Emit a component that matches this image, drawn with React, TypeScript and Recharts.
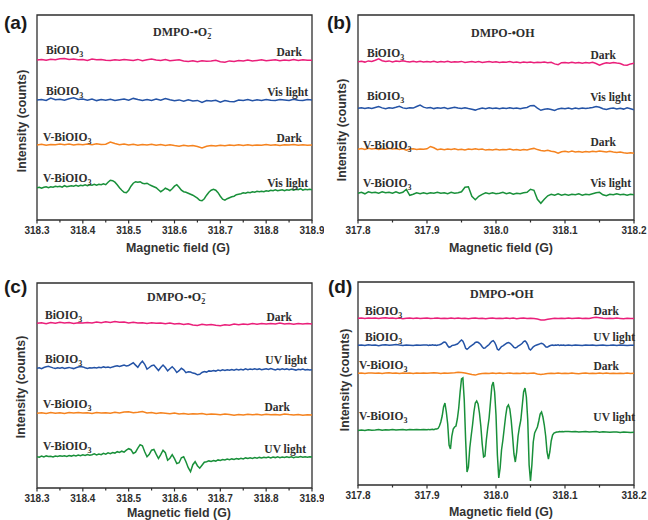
import React from "react";
import { LineChart, Line, XAxis, YAxis, ReferenceArea } from "recharts";

const range = (start: number, stop: number, step: number) => {
  const n = Math.round((stop - start) / step);
  return Array.from({ length: n + 1 }, (_, i) => +(start + i * step).toFixed(4));
};

// sampling positions, magnetic field (G)
const fieldA = range(318.3, 318.9, 0.01);
const fieldAFine = range(318.3, 318.9, 0.005);
const fieldB = range(317.8, 318.2, 0.005);
const fieldD = [
  ...range(317.8, 317.895, 0.005),
  ...range(317.9, 318.1, 0.002),
  ...range(318.105, 318.2, 0.005),
];

const ticksA = [318.3, 318.35, 318.4, 318.45, 318.5, 318.55, 318.6, 318.65, 318.7, 318.75, 318.8, 318.85, 318.9];
const ticksB = [317.8, 317.85, 317.9, 317.95, 318.0, 318.05, 318.1, 318.15, 318.2];

const PINK = "#ea1f7a";
const BLUE = "#2453a6";
const ORANGE = "#f5831f";
const GREEN = "#19903a";

// ---- (a) DMPO-O2-, Vis light ----
const pinkA = [
  0, 0.5, -0.3, 0.8, 0.2, 1.2, 1.6, 0.4, 1, 0.2,
  0.6, -0.4, 1, 0.2, 0.6, -0.3, -0.6, 0.3, -0.2, 0.5,
  0.1, -0.4, 0.6, -0.7, 0.2, 0.9, 0, -0.5, 0.4, -0.8,
  -0.3, 0.2, -0.9, -1.4, -0.7, -1.8, -0.8, -1.3, -0.9, -0.3,
  -1.7, -2.2, -0.9, -1.4, -0.4, -1, 0.1, -0.9, -0.4, 0.2,
  -0.8, -0.3, 0.2, -0.8, 0.1, -0.4, 0.5, -0.4, 0.2, -0.3,
  -0.2,
];
const blueA = [
  0, 0.6, -0.4, 2, 0.3, 0.8, -0.2, 1.2, 2.2, 0.5,
  0.9, -0.3, 1, -0.6, 0.4, -0.2, 0.8, -0.5, 0.2, 1,
  -0.2, 1.6, 0.4, -0.4, 0.6, -0.5, 0.9, -0.3, 1.5, 0.2,
  -0.8, 0.1, -1.2, 0.2, -0.9, -0.4, -2.5, -0.6, -1, -0.2,
  -2.3, -0.5, -1.4, -1.8, 0, -0.6, 0.4, -0.8, 0.2, -0.4,
  0.6, -0.2, -0.6, 0.4, 0, -0.5, 0.7, -0.2, -0.6, 0.4,
  0.1,
];
const orangeA = [
  0, 0.8, -0.2, 0.6, 0.2, 1, 0.3, 0.9, -0.1, 0.7,
  0.2, 1, 0.3, 1.2, 0.4, 0.8, 3, 1.5, 0.2, 0.9,
  0.1, 0.7, -0.2, 0.5, 0.1, 0.8, -0.3, 0.4, -0.5, 0.2,
  -0.6, -1.2, -0.3, -1, -0.4, -1.5, -3, -1.2, -0.5, -1,
  -0.2, -0.8, 0, -0.6, 0.2, -0.4, 0.3, -0.5, 0.1, -0.3,
  0.4, -0.2, 0.3, -0.4, 0.2, -0.1, 0.5, -0.3, 0.2, -0.2,
  0,
];
const greenA = [
  0, 0.5, -0.5, 0.5, 1, 0, 1, 0.5, 1.5, 1,
  1.5, 0.5, 2, 1, 1.5, 2, 1.5, 2.5, 1.5, 2.5,
  2, 3, 2, 3, 2.5, 3.5, 2.5, 3.5, 3, 4,
  3, 5.5, 7.5, 7, 5.5, 3, 0, -2.5, -4.5, -5,
  -2.5, 1.5, 4.5, 6, 5.5, 6, 4.5, 4, 4.5, 3,
  2, 1, 0, -2, -4, -2.5, -0.5, -1.5, -3, -1,
  1.5, 3, 0.5, -2.5, -4, -4.5, -5.5, -6.5, -7.5, -9,
  -10.5, -12.5, -13, -11, -7.5, -4.5, -2.5, -1.5, -2.5, -5,
  -8.5, -11.5, -12.5, -11, -10, -9, -8.5, -7, -6.5, -6,
  -5, -5.5, -4.5, -5, -4, -4.5, -3.5, -4, -3.5, -4,
  -3, -3.5, -2.5, -3, -2, -3, -2.5, -2, -3, -2,
  -2.5, -1.5, -2.5, -1.5, -2, -1, -2.5, -1.5, -2, -1.5,
  -2,
];

// ---- (b) DMPO-OH, Vis light ----
const pinkB = [
  0, 0.5, -0.4, 0.8, 0.3, 1.5, 2.8, 1, 0.2, 0.8,
  -0.2, 0.6, 0.1, 1, 0.3, -0.3, 0.5, -0.2, 0.4, -0.4,
  0.3, -0.2, 0.5, -0.5, 0.2, -0.3, 0.4, -0.6, 0, -0.4,
  0.3, -0.7, -0.2, 0.2, -0.5, 0.1, -0.8, -0.3, 0.2, -0.6,
  -0.1, -0.8, -0.2, -0.6, 0.1, -0.7, -0.3, -1, -0.4, -0.9,
  -0.2, -1.1, -0.5, -0.9, -0.3, -1, -0.6, -2.2, -3, -1,
  -0.8, -1.4, -0.6, -1.2, -0.7, -1.5, -0.9, -1.2, -0.6, -1.8,
  -3.5, -2, -1.1, -1.6, -0.9, -1.4, -1.8, -3.2, -3.6, -2.2,
  -1.6,
];
const blueB = [
  0, 0.6, -0.3, 0.5, -0.2, 0.8, 1.8, 0.4, -0.5, 0.6,
  0.1, 1, 2, 0.4, -0.3, 0.5, 0.2, 1.8, 3.2, 1.2,
  0.2, 0.8, -0.3, 0.5, 0, 0.7, -0.4, 0.3, 1, 0.2,
  -0.3, 0.6, -0.2, -0.9, -1.8, -0.6, 0.2, -0.4, 0.5, -0.3,
  0.4, -0.5, 0.3, -0.2, 0.6, -0.3, 0.2, -0.5, 0.4, 0.9,
  2.6, 2.8, 0.2, -2, -1, -0.5, -1.2, -2.2, -0.6, 0.1,
  -0.5, 0.3, -0.6, 0.2, -0.4, 0.4, -0.3, 0.2, 0.8, 1.8,
  1, -0.4, -1.2, -0.3, 0.2, -0.6, 0.1, -0.8, 0.5, -0.4,
  -1.5,
];
const orangeB = [
  0, 0.8, -0.2, 1, 0.3, 0.9, -0.1, 0.6, 0.1, 1,
  0.2, 0.7, -0.3, 0.5, -1, 0.2, 0.6, -0.3, 0.4, 0,
  0.5, 2.8, 1.5, -0.4, 0.3, -0.5, 0.2, -0.2, 0.5, -0.4,
  0.1, -0.6, 0.3, -0.3, 0.6, -0.2, 0.2, -0.8, -0.2, -0.6,
  0, -0.7, -0.1, -0.5, 0.2, -0.6, -0.2, -0.9, -0.3, -0.7,
  0.2, 0.9, -0.3, -1.2, -1.6, -1, -2, -2.5, -3.8, -2.4,
  -2, -2.8, -1.8, -2.6, -2.2, -3, -2.1, -2.6, -2, -2.4,
  -1.6, -2.2, -2.8, -1.9, -2.6, -3.2, -2.7, -3.5, -3.9, -3.4,
  -4,
];
const greenB = [
  0, 1, -0.5, 1.5, 0.5, 1, 0, 1.5, 0.5, 1,
  0, 1.5, 0, 1, 4, -2, -1, 0.5, -0.5, 0.5,
  -0.5, 0.5, 0, 1, 0, 0.5, -0.5, 1, 0, 0.5,
  1.5, 6, 6.5, -3, -6.5, -3, -1, 0.5, -0.5, 0.5,
  -0.5, 0, 1, -0.5, 0.5, -1, 0, -0.5, 0.5, 1,
  4, 3, -6, -10, -6, -2.5, -1, -2, -0.5, -2,
  -1, -2, -1, -1.5, -0.5, -2, -1, -1.5, -0.5, 0.5,
  1, -1.5, -2.5, -1, -1.5, -0.5, -1.5, -1, -2, -1,
  -1.5,
];

// ---- (c) DMPO-O2-, UV light ----
const pinkC = [
  0, 0.5, -0.4, 0.7, 0, 1, 0.3, 0.8, -0.1, 0.6,
  0.2, 0.9, 0.3, 1.2, 0.5, 1.5, 0.8, 1.8, 1, 1.2,
  0.4, 1, 0.2, 0.6, -0.2, 0.5, 0, 0.4, -0.5, 0.2,
  -0.6, -0.1, -1.2, -0.5, -1.6, -2.2, -1, -1.8, -1.2, -2,
  -2.5, -1.4, -2, -0.8, -1.5, -0.6, -1.1, -0.3, -0.9, -0.2,
  -0.8, -0.1, -0.6, 0.2, -0.7, -0.2, -0.9, -0.3, -0.6, -0.2,
  -0.6,
];
const blueC = [
  0, 0.6, -0.3, 0.8, 1.5, 2, 1.2, 0.4, -0.2, 0.5,
  0, 0.7, -0.2, 0.4, 0.9, 0.2, -0.3, 0.6, 1.2, 1.8,
  1.4, 0.6, -0.1, 0.5, 0.2, 0.8, 0.3, 1, 0.6, 1.4,
  0.8, 1.2, 0.6, 1.4, 2, 2.6, 1.8, 2.5, 3.2, 2.4,
  2.8, 4.2, 5.5, 3.2, 1, 4.5, 7.2, 4, -0.8, 0.8,
  2.6, 3.3, 0.5, -2.2, 0.8, 3.2, 0.8, -2.6, -0.4, 1.6,
  -0.8, -4.2, -2.4, 0, -1.5, -4.3, -3.5, -3.8, -4.8, -5.2,
  -6.5, -6, -4.2, -3.2, -3.8, -2.6, -3, -2.2, -2.8, -1.8,
  -2.4, -1.5, -2.2, -1.4, -2, -1.2, -1.9, -1, -1.6, -0.9,
  -1.7, -0.6, -1.4, -0.8, -1.2, -0.4, -1.1, -0.6, -1.5, -0.9,
  -0.4, -1.2, -0.3, -1, -1.6, -0.8, -1.3, -0.5, -1.1, -0.6,
  -1.4, -0.8, -1.2, -1.8, -1, -1.5, -0.8, -1.6, -1.1, -1.7,
  -1.5,
];
const orangeC = [
  0, 0.6, -0.2, 0.8, 0.1, 0.5, -0.3, 0.7, 0.2, 0.9,
  0.3, 0.6, -0.1, 0.8, 0.2, 0.5, 0.1, 1, 0.4, 1.2,
  1.6, 0.5, 1, 1.8, 0.3, 0.8, -0.2, 0.5, 0.1, -0.4,
  0.3, -0.6, -0.2, -1, -0.4, -0.8, -0.2, -1.1, -0.6, -0.9,
  -1.4, -0.7, -1.1, -2, -1.2, -1.6, -0.9, -1.4, -1, -1.6,
  -0.9, -1.5, -1.1, -1.8, -0.8, -1.3, -1.6, -1.2, -2, -1.4,
  -1.7,
];
const greenC = [
  0, -0.5, 0.6, -0.2, 0.8, 0.2, 0.5, -0.3, 0.7, 0.2,
  1, 0.4, 0.9, 0.3, 1.2, 0.6, 1.5, 0.8, 1.6, 1,
  1.9, 1.2, 2.2, 1.4, 2, 2.8, 1.8, 2.6, 2, 3.4,
  2.6, 3.8, 3, 4.2, 3.6, 5, 4.2, 5.5, 4.6, 6.5,
  8, 7, 3.2, 4.5, 8.5, 12, 11, 5, 0, 2.5,
  6.5, 7.2, 2.5, -1.8, 2, 6.5, 4, -3.5, -1.5, 2,
  -2, -6.8, -6, -1, 0, -5, -11, -15, -8, -5,
  -9, -11.5, -8.5, -5.5, -5, -4.2, -4.8, -3.8, -4.4, -3.2,
  -3.8, -2.8, -3.3, -2.4, -3, -2.2, -2.8, -1.8, -2.4, -1.6,
  -2.2, -1.2, -1.8, -1, -1.7, -0.9, -1.5, -0.7, -1.3, -0.5,
  -1.1, -0.4, -1.2, -0.3, -0.9, -0.2, -1, -0.3, -0.8, 0,
  -0.7, -0.1, -0.9, -0.2, -0.6, 0.1, -0.5, -0.1, -0.6, 0,
  -0.3,
];

// ---- (d) DMPO-OH, UV light ----
const pinkD = [
  0, 0.3, -0.2, 0.4, 0, 0.3, -0.3, 0.2, 0.5, 0,
  0.3, -0.2, 0.2, -0.4, 0.1, 0.4, -0.1, 0.2, -0.3, 0.1,
  0.3, -0.2, 0, 0.4, -0.3, 0.1, -0.2, 0.3, -0.1, 0.2,
  -0.3, 0.1, -0.5, 0, 0.3, -0.2, 0.1, -0.4, 0, 0.2,
  -0.2, 0.1, -0.3, 0.2, -0.1, 0.3, -0.4, 0, 0.2, -0.3,
  0, -0.2, -0.8, -1.6, -1.8, -1, -0.4, 0, -0.3, 0.1,
  -0.2, 0.2, -0.3, 0, 0.2, -0.2, 0.1, -0.3, 0.5, 1,
  0.6, 0, -0.3, 0.1, -0.2, 0.2, -0.1, -0.4, 0, -0.2,
  -0.3,
];
const orangeD = [
  0, 0.3, -0.2, 0.2, 0.4, 0, 0.3, -0.1, 0.2, 0.5,
  0.1, 0.4, -0.1, 0.3, 0, 0.2, -0.2, 0.3, 0.1, 0.4,
  0, 0.3, 0.5, 0.2, -0.1, 0.3, 0, 0.4, 0.6, 1,
  0.8, 0.2, -0.4, -1.2, -1.8, -0.8, -0.2, 0.1, -0.3, 0.2,
  -0.1, 0.3, -0.2, 0, 0.3, -0.3, 0.1, -0.2, 0.2, -0.1,
  0.1, 0.3, -0.6, -1.2, -0.8, -0.2, 0, -0.3, 0.2, -0.1,
  0.1, -0.3, 0.2, -0.1, -0.4, 0, 0.2, -0.2, 0.1, -0.3,
  0.2, -0.1, 0.3, -0.2, 0, -0.3, 0.1, -0.2, 0.2, -0.1,
  0,
];
const blueD = [
  // 317.800 - 317.895
  0, 0.4, -0.3, 0.5, 0, 0.3, -0.4, 0.2, 0.6, 0,
  0.4, 0.8, 0.2, -0.2, 0.4, 0.1, -0.3, 0.3, 0, 0.4,
  // 317.900 - 318.100 (0.002 G)
  0.2, -0.2, 0.3, 0, 0.4, 0, 0.3, -0.2, 0.2, 0.5,
  1, 2, 3, 3.3, 2, -0.5, -2, -1.5, -0.3, 0,
  0.3, 0.8, 1.3, 2.5, 4, 5.3, 4, 1, -3, -4,
  -3, -1.5, -0.5, 0.5, 1.5, 2.8, 3.3, 3, 2, 0.5,
  -1.5, -3, -2.8, -1.5, -0.3, 0.8, 2.5, 4, 4.7, 3,
  0, -4, -4.7, -3, -1.2, -0.5, 0.5, 1.5, 2.3, 2.7,
  2.2, 1, -0.5, -2, -2.7, -2, -0.8, 0, 0.8, 2,
  3.7, 4.3, 3, 0.5, -3.5, -4.7, -3.2, -1.5, -0.5, 0,
  0.5, 1, 1.7, 2, 1.5, 0.2, -1.5, -2, -1.2, -0.5,
  0, 0.3, -0.2, 0.2, 0, 0.4, -0.1, 0.2, 0, 0.3,
  -0.2,
  // 318.105 - 318.200
  0.2, -0.2, 0.3, 0, -0.3, 0.2, 0, 0.4, -0.2, 0.1,
  0.3, -0.2, 0, 0.3, -0.1, 0.2, 0, -0.3, 0.1, 0,
];
const greenD = [
  // 317.800 - 317.895
  -0.5, 0, -0.5, 0.3, -0.3, 0, 0.5, -0.2, 0.3, 0,
  0.5, 0, 0.3, 0.6, 0, 0.4, 0.2, 0.6, 0.3, 0.5,
  // 317.900 - 318.100 (0.002 G)
  0.3, 0.6, 0.2, 0.5, 0.8, 0.4, 0.9, 1, 1.5, 4,
  8, 14, 23, 27, 18, 6, -15, -19, -6, 1,
  3, 4, 11, 22, 38, 51, 52, 30, -10, -42,
  -37, -18, -6, 5, 18, 27, 29, 26, 17, 4,
  -14, -27, -26, -10, 2, 12, 28, 44, 48, 38,
  15, -25, -48, -38, -20, -10, 2, 14, 23, 25,
  21, 10, -6, -24, -32, -22, -6, 3, 10, 24,
  38, 42, 33, 10, -35, -51, -35, -12, -3, 0,
  3, 9, 16, 18, 13, 5, -6, -22, -29, -22,
  -11, -5, -3, -2.5, -2, -2, -1.5, -1.8, -1.5, -1.7,
  -1.5,
  // 318.105 - 318.200
  -1.6, -1.8, -1.5, -2, -1.7, -1.5, -2, -1.8, -1.6, -2.2,
  -1.8, -2, -2.3, -1.9, -2.1, -2.4, -2, -2.2, -2.5, -2.3,
];

const toPoints = (field: number[], values: number[], base: number) =>
  values.slice(0, field.length).map((v, i) => ({ x: field[i], y: base + v }));

const serif = '"Liberation Serif", "Times New Roman", serif';
const sans = '"Liberation Sans", Arial, sans-serif';
const INK = "#2e2e2e";

type Lbl = { x: number; y: number; main: string; sub?: string; end?: boolean };

const panels = [
  {
    id: "a", left: 0, top: 0, margin: { top: 15, right: 12, left: 37, bottom: 10 },
    xDomain: [318.3, 318.9], ticks: ticksA, yMax: 205,
    series: [
      { pts: toPoints(fieldA, pinkA, 160), color: PINK },
      { pts: toPoints(fieldA, blueA, 120), color: BLUE },
      { pts: toPoints(fieldA, orangeA, 75), color: ORANGE },
      { pts: toPoints(fieldAFine, greenA, 32.3), color: GREEN },
    ],
  },
  {
    id: "b", left: 324, top: 0, margin: { top: 15, right: 14, left: 34, bottom: 10 },
    xDomain: [317.8, 318.2], ticks: ticksB, yMax: 205,
    series: [
      { pts: toPoints(fieldB, pinkB, 158.3), color: PINK },
      { pts: toPoints(fieldB, blueB, 111.7), color: BLUE },
      { pts: toPoints(fieldB, orangeB, 70.7), color: ORANGE },
      { pts: toPoints(fieldB, greenB, 26.7), color: GREEN },
    ],
  },
  {
    id: "c", left: 0, top: 260, margin: { top: 23, right: 12, left: 37, bottom: 2 },
    xDomain: [318.3, 318.9], ticks: ticksA, yMax: 205,
    series: [
      { pts: toPoints(fieldA, pinkC, 164.7), color: PINK },
      { pts: toPoints(fieldAFine, blueC, 119.7), color: BLUE },
      { pts: toPoints(fieldA, orangeC, 74.7), color: ORANGE },
      { pts: toPoints(fieldAFine, greenC, 31.3), color: GREEN },
    ],
  },
  {
    id: "d", left: 324, top: 260, margin: { top: 22, right: 14, left: 34, bottom: 5 },
    xDomain: [317.8, 318.2], ticks: ticksB, yMax: 203,
    series: [
      { pts: toPoints(fieldB, pinkD, 166.7), color: PINK },
      { pts: toPoints(fieldD, blueD, 139.7), color: BLUE },
      { pts: toPoints(fieldB, orangeD, 111.7), color: ORANGE },
      { pts: toPoints(fieldD, greenD, 55), color: GREEN },
    ],
  },
];

const sampleLabels: Lbl[] = [
  // (a)
  { x: 46, y: 54, main: "BiOIO", sub: "3" },
  { x: 302, y: 56, main: "Dark", end: true },
  { x: 46, y: 95, main: "BiOIO", sub: "3" },
  { x: 308, y: 96, main: "Vis light", end: true },
  { x: 43, y: 140.5, main: "V-BiOIO", sub: "3" },
  { x: 302, y: 141.5, main: "Dark", end: true },
  { x: 43, y: 181.5, main: "V-BiOIO", sub: "3" },
  { x: 308, y: 187, main: "Vis light", end: true },
  // (b)
  { x: 367, y: 57, main: "BiOIO", sub: "3" },
  { x: 616, y: 59, main: "Dark", end: true },
  { x: 367, y: 100, main: "BiOIO", sub: "3" },
  { x: 631, y: 101, main: "Vis light", end: true },
  { x: 363, y: 149, main: "V-BiOIO", sub: "3" },
  { x: 616, y: 146, main: "Dark", end: true },
  { x: 363, y: 187, main: "V-BiOIO", sub: "3" },
  { x: 631, y: 187, main: "Vis light", end: true },
  // (c)
  { x: 45, y: 319, main: "BiOIO", sub: "3" },
  { x: 292, y: 321, main: "Dark", end: true },
  { x: 45, y: 363, main: "BiOIO", sub: "3" },
  { x: 307, y: 364, main: "UV light", end: true },
  { x: 43, y: 408, main: "V-BiOIO", sub: "3" },
  { x: 290, y: 411, main: "Dark", end: true },
  { x: 43, y: 449.5, main: "V-BiOIO", sub: "3" },
  { x: 306, y: 452.5, main: "UV light", end: true },
  // (d)
  { x: 365, y: 314.5, main: "BiOIO", sub: "3" },
  { x: 619, y: 314.5, main: "Dark", end: true },
  { x: 365, y: 341, main: "BiOIO", sub: "3" },
  { x: 635, y: 341, main: "UV light", end: true },
  { x: 359, y: 369, main: "V-BiOIO", sub: "3" },
  { x: 619, y: 369.5, main: "Dark", end: true },
  { x: 359, y: 420, main: "V-BiOIO", sub: "3" },
  { x: 635, y: 421, main: "UV light", end: true },
];

const FieldTick = (props: any) => {
  const { x, y, payload } = props;
  const v = payload.value as number;
  const major = Math.abs(v * 10 - Math.round(v * 10)) < 1e-6;
  return (
    <g>
      <line x1={x} x2={x} y1={y} y2={y + (major ? 3.5 : 2.5)} stroke={INK} strokeWidth={1.2} />
      {major && (
        <text x={x} y={y + 14} textAnchor="middle" fontFamily={sans} fontWeight="bold" fontSize={10} fill={INK}>
          {v.toFixed(1)}
        </text>
      )}
    </g>
  );
};

const Panel = ({ p }: { p: (typeof panels)[number] }) => (
  <div style={{ position: "absolute", left: p.left, top: p.top }}>
    <LineChart width={324} height={260} margin={p.margin}>
      <XAxis
        type="number"
        dataKey="x"
        domain={p.xDomain}
        ticks={p.ticks}
        interval={0}
        tick={(t: any) => <FieldTick {...t} />}
        tickLine={false}
        axisLine={false}
        tickSize={0}
        tickMargin={0}
        height={30}
        allowDataOverflow
      />
      <YAxis type="number" domain={[0, p.yMax]} hide allowDataOverflow />
      <ReferenceArea
        x1={p.xDomain[0]}
        x2={p.xDomain[1]}
        y1={0}
        y2={p.yMax}
        fill="none"
        stroke={INK}
        strokeWidth={1.3}
        ifOverflow="visible"
      />
      {p.series.map((s, i) => (
        <Line
          key={i}
          data={s.pts}
          dataKey="y"
          type="linear"
          stroke={s.color}
          strokeWidth={1.5}
          dot={false}
          activeDot={false}
          isAnimationActive={false}
        />
      ))}
    </LineChart>
  </div>
);

const Title = ({ x, y, o2 }: { x: number; y: number; o2: boolean }) => (
  <text x={x} y={y} fontFamily={serif} fontWeight="bold" fontSize={12} fill={INK}>
    {o2 ? "DMPO-\u2022O" : "DMPO-\u2022OH"}
    {o2 && <tspan fontSize={8} dy={3}>2</tspan>}
    {o2 && <tspan fontSize={8} dx={-3.5} dy={-8.5}>{"\u2212"}</tspan>}
  </text>
);

export default function App() {
  return (
    <div style={{ position: "absolute", left: 0, top: 0, width: 648, height: 520, background: "#fff", overflow: "hidden" }}>
      {panels.map((p) => (
        <Panel key={p.id} p={p} />
      ))}
      <svg width={648} height={520} style={{ position: "absolute", left: 0, top: 0, pointerEvents: "none" }}>
        {[
          { t: "(a)", x: 4, y: 29 },
          { t: "(b)", x: 327, y: 29 },
          { t: "(c)", x: 4, y: 293 },
          { t: "(d)", x: 328, y: 293 },
        ].map((l) => (
          <text key={l.t} x={l.x} y={l.y} fontFamily={sans} fontWeight="bold" fontSize={19} fill="#1a1a1a">
            {l.t}
          </text>
        ))}
        <Title x={153} y={36} o2 />
        <Title x={471} y={36.5} o2={false} />
        <Title x={147} y={301} o2 />
        <Title x={470} y={298} o2={false} />
        {[
          { x: 178, y: 252 },
          { x: 501, y: 252 },
          { x: 179, y: 516.5 },
          { x: 501, y: 516 },
        ].map((l, i) => (
          <text key={i} x={l.x} y={l.y} textAnchor="middle" fontFamily={sans} fontWeight="bold" fontSize={12.4} fill="#333">
            Magnetic field (G)
          </text>
        ))}
        {[
          { x: 21.7, y: 121 },
          { x: 342.3, y: 130 },
          { x: 20.7, y: 387 },
          { x: 344.7, y: 380 },
        ].map((l, i) => (
          <text
            key={i}
            x={l.x}
            y={l.y}
            transform={`rotate(-90 ${l.x} ${l.y})`}
            textAnchor="middle"
            dominantBaseline="central"
            fontFamily={sans}
            fontWeight="bold"
            fontSize={12.3}
            fill="#333"
          >
            Intensity (counts)
          </text>
        ))}
        {sampleLabels.map((l, i) => (
          <text
            key={i}
            x={l.x}
            y={l.y}
            textAnchor={l.end ? "end" : "start"}
            fontFamily={serif}
            fontWeight="bold"
            fontSize={11.5}
            fill={INK}
          >
            {l.main}
            {l.sub && (
              <tspan fontSize={8} dy={3}>
                {l.sub}
              </tspan>
            )}
          </text>
        ))}
      </svg>
    </div>
  );
}
